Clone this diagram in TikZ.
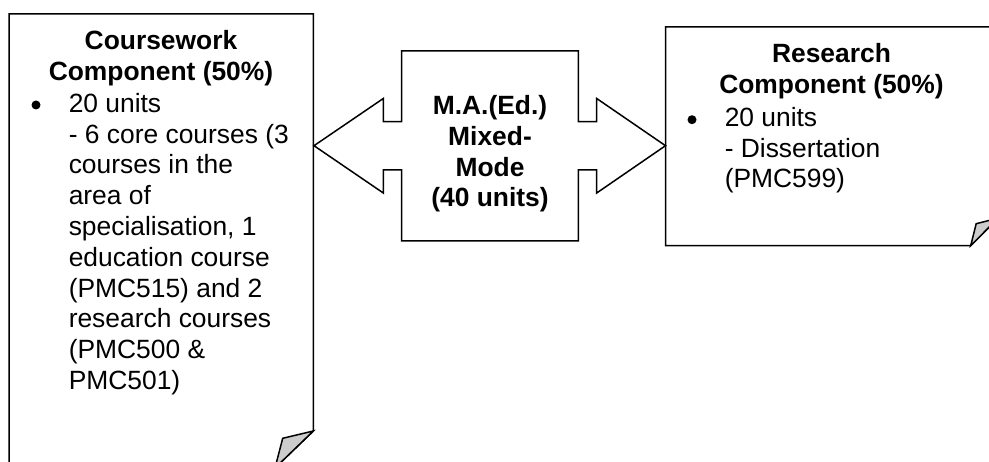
\documentclass[tikz,border=0pt]{standalone}
\usepackage{fontspec}
\setmainfont{Liberation Sans}
\newcommand\boxfont{\fontsize{26.4}{30.8}\selectfont}
\definecolor{foldgray}{RGB}{204,204,204}
\begin{document}
\begin{tikzpicture}[x=1pt,y=-1pt,line width=1.5pt,line join=miter,
  title/.style={font=\boxfont\bfseries, align=center, anchor=base, inner sep=0},
  body/.style={font=\boxfont, align=left, anchor=base west, inner sep=0},
  bul/.style={circle, fill, inner sep=0, minimum size=9pt}]
\useasboundingbox (0,0) rectangle (989,462);
\draw (9,14) -- (313.3,14) -- (313.3,431) -- (275,468) -- (9,468) -- cycle;
\draw[fill=foldgray] (275,468) -- (282.7,438.3) -- (313.3,431) -- cycle;
\draw (665.5,27) -- (998,27) -- (998,218.2) -- (970.7,245.7) -- (665.5,245.7) -- cycle;
\draw[fill=foldgray] (970.7,245.7) -- (976.2,223.7) -- (998,218.2) -- cycle;
\draw (314,145.7) -- (383.3,98.5) -- (383.3,121.7) -- (401.7,121.7) -- (401.7,51)
  -- (578.3,51) -- (578.3,121.7) -- (596.7,121.7) -- (596.7,98.5) -- (665.5,145.7)
  -- (596.7,193) -- (596.7,170) -- (578.3,170) -- (578.3,241) -- (401.7,241)
  -- (401.7,170) -- (383.3,170) -- (383.3,193) -- cycle;
\node[title] (courseTitle) at (161,80.5) {Coursework\\Component (50\%)};
\node[bul] (courseBul) at (36,105) {};
\node[body] (courseText) at (68,389.5) {20 units\\- 6 core courses (3\\courses in the\\area of\\specialisation, 1\\education course\\(PMC515) and 2\\research courses\\(PMC500 \&\\PMC501)};
\node[title] (modeText) at (490,207) {M.A.(Ed.)\\Mixed-\\Mode\\(40 units)};
\node[title] (resTitle) at (831.5,93.8) {Research\\Component (50\%)};
\node[bul] (resBul) at (692,119.7) {};
\node[body] (resText) at (724,188) {20 units\\- Dissertation\\(PMC599)};
\end{tikzpicture}
\end{document}
